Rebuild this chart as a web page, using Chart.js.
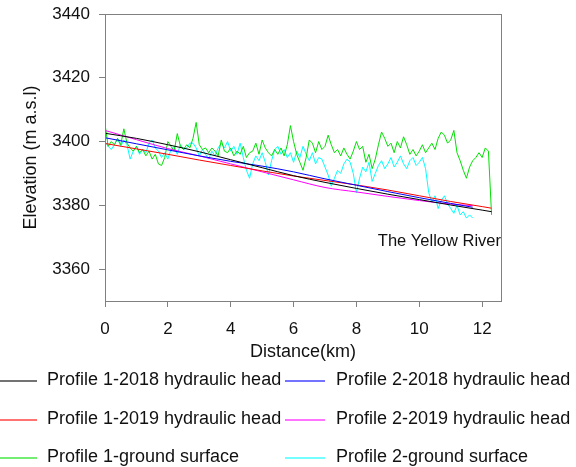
<!DOCTYPE html>
<html>
<head>
<meta charset="utf-8">
<script src="https://cdn.jsdelivr.net/npm/chart.js@4.4.1/dist/chart.umd.min.js"></script>
<style>
  html, body { margin: 0; padding: 0; background: #fff; }
  #wrap { width: 576px; height: 467px; position: relative; }
</style>
</head>
<body>
<div id="wrap"><canvas id="profileChart"></canvas></div>
<script>
/* ---------- data ---------- */
const xTicks = [0, 2, 4, 6, 8, 10, 12];
const yTicks = [3360, 3380, 3400, 3420, 3440];

// hydraulic heads, profile 1
const head1Km = [0, 1, 2, 3, 4, 5, 6, 7, 8, 9, 10, 11, 12, 12.3];
const p1Head2018 = [3402.6, 3401, 3399, 3396.8, 3394.3, 3391.8, 3389.3, 3387.2, 3385.3, 3383.5, 3381.8, 3380.1, 3378.5, 3378];
const p1Head2019 = [3399.4, 3397.7, 3396, 3394.2, 3392.5, 3390.8, 3389.2, 3387.8, 3386.4, 3384.8, 3383, 3381.2, 3379.6, 3379.1];

// hydraulic heads, profile 2
const head2Km = [0, 1, 2, 3, 4, 5, 6, 7, 8, 9, 10, 11, 11.7];
const p2Head2018 = [3401.2, 3399.3, 3397.4, 3395.5, 3393.8, 3392.3, 3390.5, 3388.3, 3386.3, 3384.3, 3382.4, 3380.6, 3379.4];
const p2Head2019 = [3403.5, 3400.6, 3397.8, 3395.5, 3393, 3390.5, 3388, 3385.6, 3384.2, 3382.8, 3381.5, 3380.4, 3379.9];

// ground surfaces, one value every 0.1 km
const p1Ground = [
  3405.5, 3398.5, 3400, 3399, 3401, 3399, 3404, 3399.5, 3398, 3397,
  3398.5, 3396.5, 3397.5, 3395.5, 3397, 3394.5, 3396, 3393, 3392.5, 3395,
  3400, 3398.5, 3397, 3402.5, 3398.5, 3397.5, 3399, 3398, 3401, 3406,
  3399, 3397.5, 3398, 3396.5, 3398, 3397, 3395.5, 3400.5, 3397, 3396.5,
  3398, 3395.5, 3397, 3396, 3398.5, 3395, 3396.5, 3397, 3399.5, 3396,
  3400.5, 3398, 3396.5, 3395.5, 3397.5, 3396, 3398, 3395.5, 3399, 3405,
  3400, 3396, 3393.5, 3391, 3395, 3400.5, 3399.5, 3396.5, 3400, 3397.5,
  3398.5, 3402, 3399, 3396.5, 3397.5, 3395.5, 3398, 3396, 3394.5, 3397,
  3400, 3397.5, 3398.5, 3393.5, 3396, 3391.5, 3394.5, 3399, 3403, 3401,
  3398.5, 3399.5, 3396.5, 3400, 3398, 3401.5, 3399, 3396, 3397.5, 3395.5,
  3397, 3399, 3396.5, 3398, 3399.5, 3397.5, 3401, 3403, 3402, 3399.5,
  3400.5, 3403.5, 3396.5, 3394, 3391, 3388.5, 3392, 3394, 3395, 3396.5,
  3395, 3398, 3397, 3377
];
const p2Ground = [
  3400, 3398.5, 3397.5, 3399, 3401, 3398.5, 3400.5, 3399, 3394.5, 3397,
  3398.5, 3396, 3397.5, 3396.5, 3399.5, 3400.5, 3398, 3397, 3395, 3396.5,
  3394.5, 3397.5, 3398.5, 3396, 3399, 3397.5, 3398, 3399.5, 3399.5, 3398,
  3395.5, 3397.5, 3396, 3394.5, 3397, 3395.5, 3398, 3399.5, 3398, 3400,
  3397, 3398.5, 3396, 3399.5, 3395, 3391, 3388.5, 3393, 3395.5, 3394,
  3396.5, 3393.5, 3389.5, 3394, 3397.5, 3398.5, 3396, 3397.5, 3395, 3396.5,
  3393.5, 3397, 3395, 3398.5, 3396, 3394, 3396.5, 3393, 3395, 3394.5,
  3392, 3389.5, 3386, 3388.5, 3391, 3390, 3393, 3394.5, 3393.5, 3390,
  3384, 3388.5, 3392, 3390.5, 3393.5, 3387.5, 3390, 3392.5, 3394, 3391.5,
  3393, 3395, 3392, 3393.5, 3395.5, 3393, 3391.5, 3394, 3395, 3392.5,
  3393.5, 3395, 3391.5, 3384, 3381, 3383, 3379, 3381.5, 3383, 3380.5,
  3379, 3377.5, 3380, 3377, 3378, 3376, 3377, 3376
];
const groundKm1 = p1Ground.map((_, i) => +(i * 0.1).toFixed(1));
const groundKm2 = p2Ground.map((_, i) => +(i * 0.1).toFixed(1));

const seriesLabels = [
  "Profile 1-2018 hydraulic head", "Profile 2-2018 hydraulic head",
  "Profile 1-2019 hydraulic head", "Profile 2-2019 hydraulic head",
  "Profile 1-ground surface", "Profile 2-ground surface"
];
const seriesColors = ["#000000", "#0000ff", "#ff0000", "#ff00ff", "#00e000", "#00ffff"];

const FONT = "'Liberation Sans', Arial, sans-serif";
const AXIS_GREY = "#808080";

function pts(xs, ys){
  return ys.map((v, i) => ({ x: xs[i], y: v }));
}

function lineSet(i, xs, ys, smooth){
  return {
    label: seriesLabels[i],
    data: pts(xs, ys),
    borderColor: seriesColors[i],
    backgroundColor: seriesColors[i],
    borderWidth: 1,
    pointRadius: 0,
    fill: false,
    tension: smooth ? 0.4 : 0,
    cubicInterpolationMode: smooth ? "monotone" : "default"
  };
}

/* ------------------------------
   PLUGINS: frame, river label, legend
--------------------------------*/
const framePlugin = {
  id: "frame",
  afterDraw(chart){
    const { ctx, chartArea: a } = chart;
    ctx.save();
    ctx.strokeStyle = AXIS_GREY;
    ctx.lineWidth = 1;
    ctx.strokeRect(a.left + 0.5, a.top + 0.5, a.right - a.left, a.bottom - a.top);
    ctx.restore();
  }
};

const riverLabel = {
  id: "riverLabel",
  afterDraw(chart){
    const { ctx, scales } = chart;
    ctx.save();
    ctx.font = "16.5px " + FONT;
    ctx.fillStyle = "#111";
    ctx.textAlign = "right";
    ctx.textBaseline = "middle";
    ctx.fillText("The Yellow River", scales.x.getPixelForValue(12.6), scales.y.getPixelForValue(3368.6));
    ctx.restore();
  }
};

const legendGrid = {
  id: "legendGrid",
  afterDraw(chart){
    const ctx = chart.ctx;
    const rows = [380, 419, 457];
    const lineX = [[0, 37], [285, 325]];
    const textX = [47, 336];
    ctx.save();
    ctx.font = "18px " + FONT;
    ctx.textBaseline = "middle";
    ctx.textAlign = "left";
    for (let i = 0; i < seriesLabels.length; i++) {
      const col = i % 2, y = rows[Math.floor(i / 2)];
      ctx.globalAlpha = 0.55;
      ctx.strokeStyle = seriesColors[i];
      ctx.lineWidth = 2;
      ctx.beginPath();
      ctx.moveTo(lineX[col][0], y + 1);
      ctx.lineTo(lineX[col][1], y + 1);
      ctx.stroke();
      ctx.globalAlpha = 1;
      ctx.fillStyle = "#111";
      ctx.fillText(seriesLabels[i], textX[col], y);
    }
    ctx.restore();
  }
};

/* ------------------------------
   CHART
--------------------------------*/
const ctx = document.getElementById("profileChart").getContext("2d");

new Chart(ctx, {
  type: "line",
  data: {
    datasets: [
      lineSet(0, head1Km, p1Head2018, true),
      lineSet(1, head2Km, p2Head2018, true),
      lineSet(2, head1Km, p1Head2019, true),
      lineSet(3, head2Km, p2Head2019, true),
      lineSet(4, groundKm1, p1Ground, false),
      lineSet(5, groundKm2, p2Ground, false)
    ]
  },
  options: {
    responsive: true,
    maintainAspectRatio: false,
    animation: false,
    layout: { padding: { top: 14, right: 75, left: 0, bottom: 0 } },
    plugins: {
      legend: { display: false },
      tooltip: { enabled: false }
    },
    scales: {
      x: {
        type: "linear",
        min: 0,
        max: 12.6,
        afterBuildTicks: s => { s.ticks = xTicks.map(v => ({ value: v })); },
        afterFit: s => { s.height = 166; s.paddingLeft = 0; s.paddingRight = 0; },
        grid: { drawOnChartArea: false, color: AXIS_GREY, tickLength: 6 },
        border: { color: AXIS_GREY },
        ticks: { color: "#111", padding: 12, font: { family: FONT, size: 17 }, callback: v => String(v) },
        title: {
          display: true,
          text: "Distance(km)",
          color: "#111",
          font: { family: FONT, size: 18 },
          padding: { top: 0, bottom: 104 }
        }
      },
      y: {
        type: "linear",
        min: 3350,
        max: 3440,
        afterBuildTicks: s => { s.ticks = yTicks.map(v => ({ value: v })); },
        afterFit: s => { s.width = 105; s.paddingTop = 0; s.paddingBottom = 0; },
        grid: { drawOnChartArea: false, color: AXIS_GREY, tickLength: 6 },
        border: { color: AXIS_GREY },
        ticks: { color: "#111", padding: 9, font: { family: FONT, size: 17 }, callback: v => String(v) },
        title: {
          display: true,
          text: "Elevation (m a.s.l)",
          color: "#111",
          font: { family: FONT, size: 18 },
          padding: { top: 20, bottom: 0 }
        }
      }
    }
  },
  plugins: [framePlugin, riverLabel, legendGrid]
});
</script>
</body>
</html>
